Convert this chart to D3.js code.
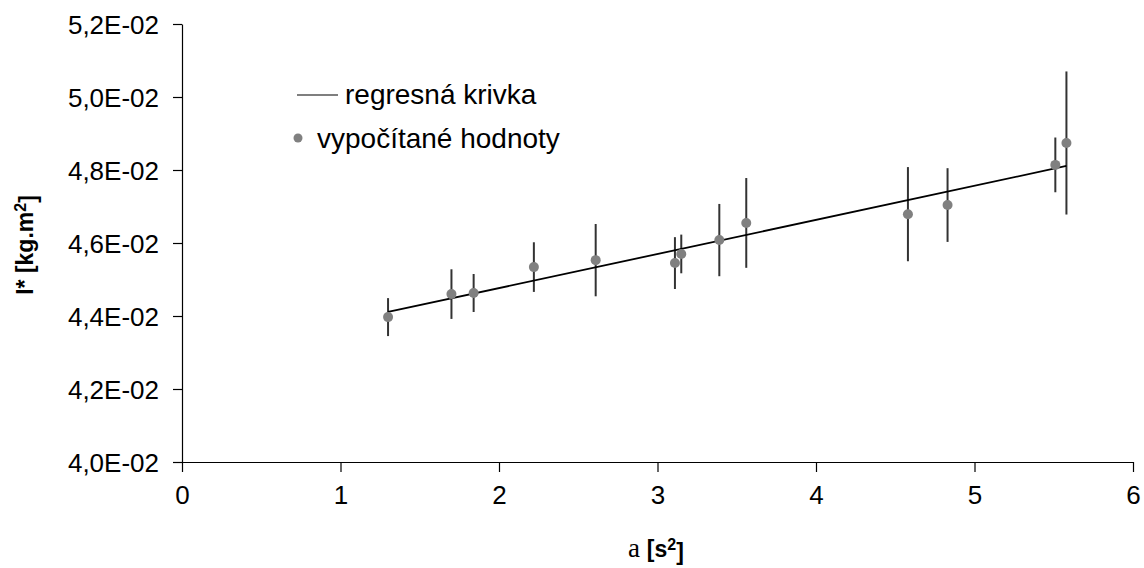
<!DOCTYPE html>
<html>
<head>
<meta charset="utf-8">
<script src="https://cdn.jsdelivr.net/npm/d3@7"></script>
<style>
  html, body { margin: 0; padding: 0; background: #fff; }
  svg { display: block; font-family: "Liberation Sans", Arial, sans-serif; }
</style>
</head>
<body>
<div id="chart"></div>
<script>
// a [s^2]
const aValues = [1.30, 1.70, 1.84, 2.22, 2.61, 3.11, 3.15, 3.39, 3.56, 4.58, 4.83, 5.51, 5.58];
// I* [kg.m^2]
const iValues = [0.04397, 0.04460, 0.04463, 0.04534, 0.04553, 0.04545, 0.04570, 0.04608, 0.04655, 0.04679, 0.04704, 0.04814, 0.04874];
const iErrors = [0.00052, 0.00068, 0.00052, 0.00068, 0.00099, 0.00071, 0.00053, 0.00099, 0.00123, 0.00129, 0.00101, 0.00075, 0.00196];
// regression line end points
const regA = [1.30, 5.58];
const regI = [0.04411, 0.04811];
const xTicks = [0, 1, 2, 3, 4, 5, 6];
const yTicks = [0.040, 0.042, 0.044, 0.046, 0.048, 0.050, 0.052];

const W = 1144, H = 568;
const svg = d3.select("#chart").append("svg").attr("width", W).attr("height", H);

const x = d3.scaleLinear().domain([0, 6]).range([182, 1133]);
const y = d3.scaleLinear().domain([0.040, 0.052]).range([462, 24]);

// 4,0E-02 style
const sciFmt = v => {
  const e = Math.floor(Math.log10(v));
  const m = (v / Math.pow(10, e)).toFixed(1).replace(".", ",");
  const es = (e < 0 ? "-" : "+") + String(Math.abs(e)).padStart(2, "0");
  return m + "E" + es;
};

const yAxis = svg.append("g")
  .attr("transform", `translate(${x(0)},0)`)
  .call(d3.axisLeft(y).tickValues(yTicks).tickFormat(sciFmt).tickSize(9).tickSizeOuter(0).tickPadding(14));
const xAxis = svg.append("g")
  .attr("transform", `translate(0,${y(0.040)})`)
  .call(d3.axisBottom(x).tickValues(xTicks).tickFormat(d3.format("d")).tickSize(10).tickSizeOuter(0).tickPadding(14));

[xAxis, yAxis].forEach(g => {
  g.select(".domain").attr("stroke", "#000").attr("stroke-width", 1.2);
  g.selectAll(".tick line").attr("stroke", "#000").attr("stroke-width", 1.2);
  g.selectAll(".tick text").attr("fill", "#000").style("font-size", "26px")
    .style("font-family", "'Liberation Sans', Arial, sans-serif");
});
yAxis.selectAll(".tick text").attr("dy", "0.36em");

const pts = aValues.map((a, i) => ({ a, v: iValues[i], e: iErrors[i] }));

// error bars
svg.append("g").selectAll("line").data(pts).join("line")
  .attr("x1", d => x(d.a)).attr("x2", d => x(d.a))
  .attr("y1", d => y(d.v - d.e)).attr("y2", d => y(d.v + d.e))
  .attr("stroke", "#333").attr("stroke-width", 2);

// regression line
svg.append("line")
  .attr("x1", x(regA[0])).attr("y1", y(regI[0]))
  .attr("x2", x(regA[1])).attr("y2", y(regI[1]))
  .attr("stroke", "#000").attr("stroke-width", 1.8);

// points
svg.append("g").selectAll("circle").data(pts).join("circle")
  .attr("cx", d => x(d.a)).attr("cy", d => y(d.v)).attr("r", 5)
  .attr("fill", "#808080");

// legend
const leg = svg.append("g");
leg.append("line").attr("x1", 297).attr("x2", 338).attr("y1", 95).attr("y2", 95)
  .attr("stroke", "#000").attr("stroke-width", 1.2);
leg.append("text").attr("x", 345).attr("y", 104).style("font-size", "28px").attr("fill", "#000")
  .text("regresná krivka");
leg.append("circle").attr("cx", 298).attr("cy", 138).attr("r", 4.5).attr("fill", "#808080");
leg.append("text").attr("x", 317).attr("y", 148).style("font-size", "28px").attr("fill", "#000")
  .text("vypočítané hodnoty");

// axis titles
const yt = svg.append("text")
  .attr("transform", "translate(33,245) rotate(-90)")
  .attr("text-anchor", "middle")
  .style("font-size", "23px").style("font-weight", "bold").attr("fill", "#000");
yt.append("tspan").text("I* [kg.m");
yt.append("tspan").attr("dy", "-0.45em").style("font-size", "16px").text("2");
yt.append("tspan").attr("dy", "0.45em").text("]");

const xt = svg.append("text")
  .attr("x", 656).attr("y", 557)
  .attr("text-anchor", "middle")
  .style("font-size", "23px").attr("fill", "#000");
xt.append("tspan").style("font-family", "'Liberation Serif', 'Times New Roman', serif").style("font-size", "27px").text("a ");
xt.append("tspan").style("font-weight", "bold").text("[s");
xt.append("tspan").attr("dy", "-0.45em").style("font-weight", "bold").style("font-size", "16px").text("2");
xt.append("tspan").attr("dy", "0.45em").style("font-weight", "bold").text("]");
</script>
</body>
</html>
